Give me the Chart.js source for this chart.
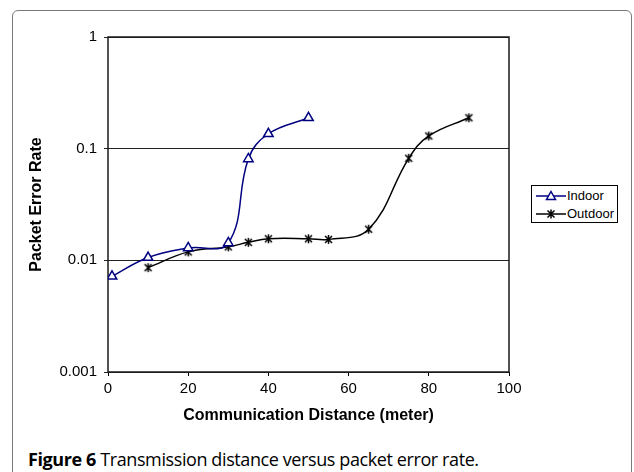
<!DOCTYPE html>
<html>
<head>
<meta charset="utf-8">
<script src="https://cdn.jsdelivr.net/npm/chart.js@4"></script>
<style>
  html, body { margin: 0; padding: 0; background: #fff; }
  body { width: 634px; height: 472px; position: relative; overflow: hidden; }
  #frame {
    position: absolute; left: 12px; top: 10px; width: 620px; height: 500px;
    border: 1px solid #7a7a7a; border-radius: 6px; box-sizing: border-box;
  }
  #chart { position: absolute; left: 0; top: 0; }
  #legend {
    position: absolute; left: 531px; top: 185px; width: 87px; height: 38px;
    border: 1px solid #000; box-sizing: border-box; background: #fff;
    font: 13px "Liberation Sans", Arial, sans-serif; color: #000;
  }
  #legend .item { position: absolute; left: 3px; height: 16px; line-height: 16px; }
  #legend svg { position: absolute; left: 0; top: 0; }
  #legend span { position: absolute; left: 32px; top: 0; white-space: nowrap; }
  #caption {
    position: absolute; left: 28px; top: 447px; white-space: nowrap;
    font: 18px "Open Sans", sans-serif; color: #000; letter-spacing: -0.4px;
  }
  #caption b { font-weight: 700; }
</style>
</head>
<body>
<div id="frame"></div>
<canvas id="chart" width="634" height="430"></canvas>
<div id="legend">
  <div class="item" style="top:2px">
    <svg width="32" height="16"><line x1="1" y1="8" x2="31" y2="8" stroke="#000080" stroke-width="1.5"/><polygon points="16,3.5 20.5,11.5 11.5,11.5" fill="#fff" stroke="#000080" stroke-width="1.5"/></svg>
    <span>Indoor</span>
  </div>
  <div class="item" style="top:20px">
    <svg width="32" height="16"><line x1="1" y1="8" x2="31" y2="8" stroke="#000" stroke-width="1.5"/><path d="M12.5,4.5 L19.5,11.5 M19.5,4.5 L12.5,11.5 M16,3.5 L16,12.5" stroke="#000" stroke-width="1.5"/></svg>
    <span>Outdoor</span>
  </div>
</div>
<div id="caption"><b>Figure 6</b> Transmission distance versus packet error rate.</div>
<script>
// Packet error rate vs. communication distance
const indoorDistance = [1, 10, 20, 30, 35, 40, 50];
const indoorPER = [0.0072, 0.0106, 0.0129, 0.0143, 0.081, 0.136, 0.189];

const outdoorDistance = [10, 20, 30, 35, 40, 50, 55, 65, 75, 80, 90];
const outdoorPER = [0.0086, 0.0119, 0.0132, 0.0145, 0.0156, 0.0156, 0.0154, 0.019, 0.082, 0.13, 0.189];

const yTicks = [0.001, 0.01, 0.1, 1];
const xTicks = [0, 20, 40, 60, 80, 100];

const toPoints = (xs, ys) => xs.map((x, i) => ({ x: x, y: ys[i] }));

// Excel-style asterisk marker (X with a vertical bar)
const asterisk = document.createElement('canvas');
asterisk.width = 11;
asterisk.height = 11;
(function() {
    const c = asterisk.getContext('2d');
    c.strokeStyle = '#000';
    c.lineWidth = 1.5;
    c.beginPath();
    c.moveTo(2, 2); c.lineTo(9, 9);
    c.moveTo(9, 2); c.lineTo(2, 9);
    c.moveTo(5.5, 1); c.lineTo(5.5, 10);
    c.stroke();
})();

// Box around the plot area
const plotBorder = {
    id: 'plotBorder',
    beforeDatasetsDraw(chart) {
        const { ctx, chartArea: a } = chart;
        ctx.save();
        ctx.strokeStyle = '#1a1a1a';
        ctx.lineWidth = 1.5;
        ctx.strokeRect(a.left, a.top, a.right - a.left, a.bottom - a.top);
        ctx.restore();
    }
};

const tickFont = { family: '"Liberation Sans", Arial, sans-serif', size: 15 };
const titleFont = { family: '"Liberation Sans", Arial, sans-serif', size: 16, weight: 'bold' };

new Chart(document.getElementById('chart'), {
    type: 'line',
    data: {
        datasets: [{
            label: 'Indoor',
            data: toPoints(indoorDistance, indoorPER),
            borderColor: '#000080',
            borderWidth: 1.5,
            tension: 0.4,
            pointStyle: 'triangle',
            pointRadius: 5.5,
            pointBorderWidth: 1.5,
            pointBorderColor: '#000080',
            pointBackgroundColor: '#fff'
        }, {
            label: 'Outdoor',
            data: toPoints(outdoorDistance, outdoorPER),
            borderColor: '#000',
            borderWidth: 1.5,
            tension: 0.4,
            pointStyle: asterisk,
            pointRadius: 5
        }]
    },
    options: {
        responsive: false,
        animation: false,
        events: [],
        layout: { padding: { top: 37, right: 125, left: 0, bottom: 0 } },
        plugins: {
            legend: { display: false },
            tooltip: { enabled: false }
        },
        scales: {
            x: {
                type: 'linear',
                min: 0,
                max: 100,
                afterFit: (scale) => { scale.height = 58; },
                afterBuildTicks: (scale) => { scale.ticks = xTicks.map(v => ({ value: v })); },
                border: { display: false },
                grid: { drawOnChartArea: false, drawTicks: true, tickLength: 4, color: '#000' },
                ticks: { color: '#000', font: tickFont, padding: 4, maxRotation: 0 },
                title: {
                    display: true,
                    text: 'Communication Distance (meter)',
                    color: '#000',
                    font: titleFont,
                    padding: { top: 5, bottom: 5 }
                }
            },
            y: {
                type: 'logarithmic',
                min: 0.001,
                max: 1,
                afterFit: (scale) => { scale.width = 108; },
                afterBuildTicks: (scale) => { scale.ticks = yTicks.map(v => ({ value: v })); },
                border: { display: false },
                grid: { drawTicks: true, tickLength: 4, color: '#222', lineWidth: 1 },
                ticks: {
                    color: '#000',
                    font: tickFont,
                    padding: 7,
                    callback: (value) => String(value)
                },
                title: {
                    display: true,
                    text: 'Packet Error Rate',
                    color: '#000',
                    font: titleFont,
                    padding: { top: 27, bottom: 27 }
                }
            }
        }
    },
    plugins: [plotBorder]
});
</script>
</body>
</html>
